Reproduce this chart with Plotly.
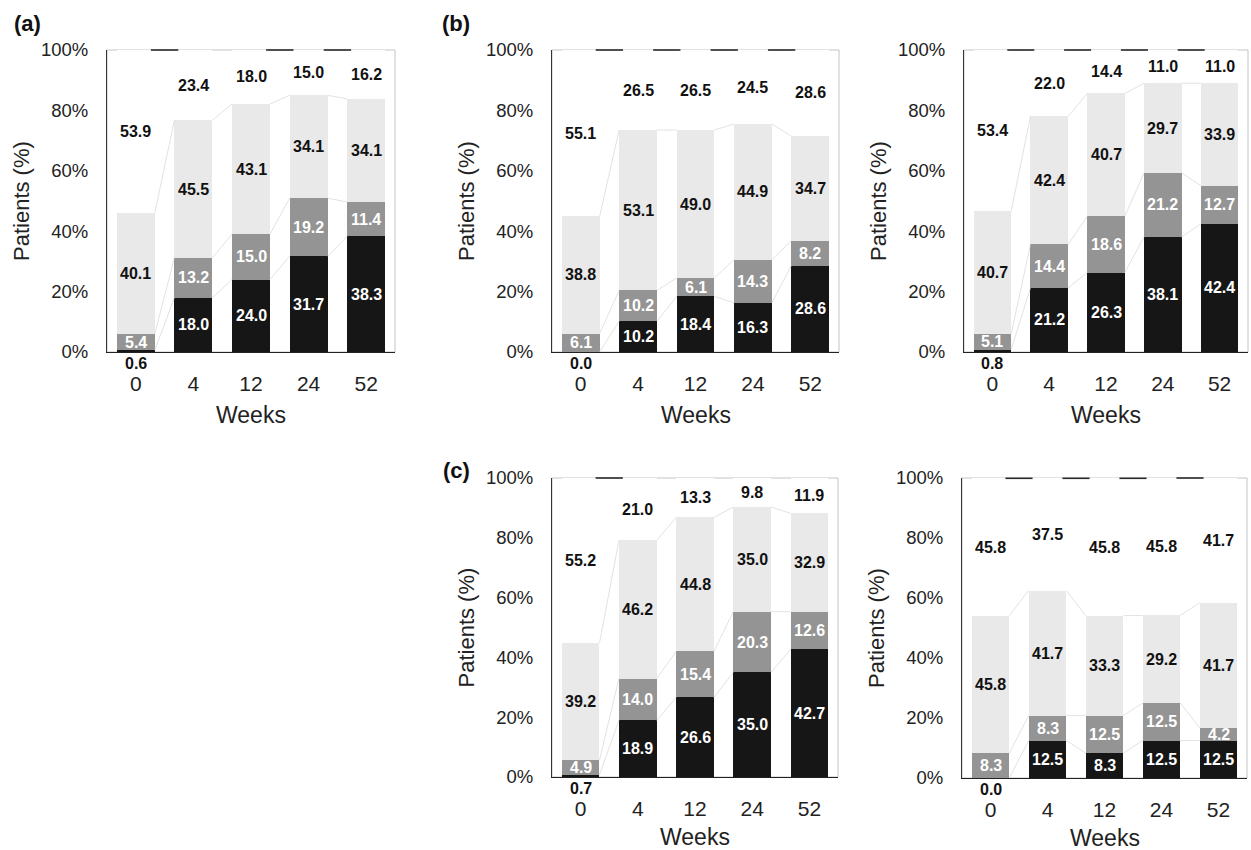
import plotly.graph_objects as go

# ---------------- data ----------------
weeks = ["0", "4", "12", "24", "52"]

a_black = [0.6, 18.0, 24.0, 31.7, 38.3]
a_gray = [5.4, 13.2, 15.0, 19.2, 11.4]
a_light = [40.1, 45.5, 43.1, 34.1, 34.1]
a_white = [53.9, 23.4, 18.0, 15.0, 16.2]

b1_black = [0.0, 10.2, 18.4, 16.3, 28.6]
b1_gray = [6.1, 10.2, 6.1, 14.3, 8.2]
b1_light = [38.8, 53.1, 49.0, 44.9, 34.7]
b1_white = [55.1, 26.5, 26.5, 24.5, 28.6]

b2_black = [0.8, 21.2, 26.3, 38.1, 42.4]
b2_gray = [5.1, 14.4, 18.6, 21.2, 12.7]
b2_light = [40.7, 42.4, 40.7, 29.7, 33.9]
b2_white = [53.4, 22.0, 14.4, 11.0, 11.0]

c1_black = [0.7, 18.9, 26.6, 35.0, 42.7]
c1_gray = [4.9, 14.0, 15.4, 20.3, 12.6]
c1_light = [39.2, 46.2, 44.8, 35.0, 32.9]
c1_white = [55.2, 21.0, 13.3, 9.8, 11.9]

c2_black = [0.0, 12.5, 8.3, 12.5, 12.5]
c2_gray = [8.3, 8.3, 12.5, 12.5, 4.2]
c2_light = [45.8, 41.7, 33.3, 29.2, 41.7]
c2_white = [45.8, 37.5, 45.8, 45.8, 41.7]

y_ticks = [0, 20, 40, 60, 80, 100]
y_ticktext = ["0%", "20%", "40%", "60%", "80%", "100%"]
panel_letters = ["(a)", "(b)", "(c)"]

panels = [
    (a_black, a_gray, a_light, a_white),
    (b1_black, b1_gray, b1_light, b1_white),
    (b2_black, b2_gray, b2_light, b2_white),
    (c1_black, c1_gray, c1_light, c1_white),
    (c2_black, c2_gray, c2_light, c2_white),
]

# ---------------- layout geometry (pixels) ----------------
W, H = 1251, 850
# (left, right, top, bottom) of each plot area in pixels
boxes = [
    (107, 395, 50, 352),
    (552, 839, 50, 352),
    (964, 1248, 50, 352),
    (552, 838, 478, 777),
    (962, 1247, 478, 778),
]

seg_colors = ["#161616", "#949494", "#e9e9e9", "#ffffff"]
lab_colors = ["#ffffff", "#ffffff", "#111111", "#111111"]
BAR_W = 0.66
FONT = "Liberation Sans, Arial, sans-serif"

fig = go.Figure()
annotations = []
shapes = []
layout_axes = {}

idx = list(range(len(weeks)))

for p, (segs, box) in enumerate(zip(panels, boxes)):
    n = p + 1
    xa = "x" if n == 1 else f"x{n}"
    ya = "y" if n == 1 else f"y{n}"
    l, r, t, b = box
    xdom = [l / W, r / W]
    ydom = [1 - b / H, 1 - t / H]
    cat_px = (r - l) / len(weeks)

    # light frame (drawn under the bars)
    shapes.append(dict(
        type="rect", xref=f"{xa} domain", yref=f"{ya} domain", x0=0, x1=1, y0=0, y1=1,
        line=dict(color="#c4c4c4", width=1), layer="below"))

    # stacked bars
    for s, vals in enumerate(segs):
        fig.add_trace(go.Bar(
            x=idx, y=vals, width=BAR_W, xaxis=xa, yaxis=ya,
            marker=dict(color=seg_colors[s], line=dict(width=0)),
            showlegend=False, hoverinfo="skip",
        ))

    # cumulative tops
    cums = []
    run = [0.0] * len(weeks)
    for vals in segs:
        run = [round(a + v, 6) for a, v in zip(run, vals)]
        cums.append(run[:])

    # faint connector lines between adjacent bars
    cx, cy = [], []
    for k in range(3):
        for i in range(len(weeks) - 1):
            cx += [i + BAR_W / 2, i + 1 - BAR_W / 2, None]
            cy += [cums[k][i], cums[k][i + 1], None]
    fig.add_trace(go.Scatter(
        x=cx, y=cy, mode="lines", xaxis=xa, yaxis=ya,
        line=dict(color="#d6d6d6", width=0.7), showlegend=False, hoverinfo="skip",
    ))

    # dark top-frame dashes visible in the gaps between bars
    gap_x = [i + 0.5 for i in range(len(weeks) - 1)]
    gap_y = [min(cums[3][i], cums[3][i + 1]) for i in range(len(weeks) - 1)]
    fig.add_trace(go.Scatter(
        x=gap_x, y=gap_y, mode="markers", xaxis=xa, yaxis=ya, cliponaxis=False,
        marker=dict(symbol="line-ew", size=(1 - BAR_W) * cat_px, color="#2a2a2a",
                    line=dict(width=1.6, color="#2a2a2a")),
        showlegend=False, hoverinfo="skip",
    ))

    # value labels
    for i in idx:
        base = 0.0
        for s, vals in enumerate(segs):
            v = vals[i]
            if s == 0 and v < 3:
                annotations.append(dict(
                    x=i, y=0, xref=xa, yref=ya, text=f"<b>{v:.1f}</b>",
                    showarrow=False, yanchor="top", yshift=-1,
                    font=dict(family=FONT, size=16, color="#111111")))
            else:
                annotations.append(dict(
                    x=i, y=base + v / 2, xref=xa, yref=ya, text=f"<b>{v:.1f}</b>",
                    showarrow=False, yanchor="middle",
                    font=dict(family=FONT, size=16, color=lab_colors[s])))
            base += v

    # axis titles
    annotations.append(dict(
        x=0.5, y=0, xref=f"{xa} domain", yref=f"{ya} domain", text="Weeks",
        showarrow=False, yanchor="middle", yshift=-63 if p < 3 else -60,
        font=dict(family=FONT, size=23, color="#222222")))
    annotations.append(dict(
        x=0, y=0.5, xref=f"{xa} domain", yref=f"{ya} domain", text="Patients (%)",
        showarrow=False, textangle=-90, xanchor="center", xshift=-86,
        font=dict(family=FONT, size=22, color="#222222")))

    key = "" if n == 1 else str(n)
    layout_axes[f"xaxis{key}"] = dict(
        domain=xdom, anchor=ya, range=[-0.5, len(weeks) - 0.5],
        tickvals=idx, ticktext=weeks, showgrid=False, zeroline=False,
        showline=True, linecolor="#222222", linewidth=1.3, ticks="",
        ticklabelstandoff=13, automargin=False,
        tickfont=dict(family=FONT, size=21, color="#222222"), fixedrange=True)
    layout_axes[f"yaxis{key}"] = dict(
        domain=ydom, anchor=xa, range=[0, 100],
        tickvals=y_ticks, ticktext=y_ticktext, showgrid=False, zeroline=False,
        showline=True, linecolor="#333333", linewidth=1.1, ticks="",
        ticklabelstandoff=14, automargin=False,
        tickfont=dict(family=FONT, size=18.5, color="#222222"), fixedrange=True)

# panel letters
for letter, (px, py) in zip(panel_letters, [(12, 23), (440, 23), (441, 471)]):
    annotations.append(dict(
        x=px / W, y=1 - py / H, xref="paper", yref="paper", text=f"<b>{letter}</b>",
        showarrow=False, xanchor="left", yanchor="middle",
        font=dict(family=FONT, size=22, color="#111111")))

fig.update_layout(
    width=W, height=H,
    margin=dict(l=0, r=0, t=0, b=0, pad=0, autoexpand=False),
    paper_bgcolor="white", plot_bgcolor="white",
    barmode="stack", bargap=0, showlegend=False,
    annotations=annotations, shapes=shapes,
    **layout_axes,
)

fig.write_html("out.html", config={"displayModeBar": False},
               post_script="document.body.style.margin='0px';")
